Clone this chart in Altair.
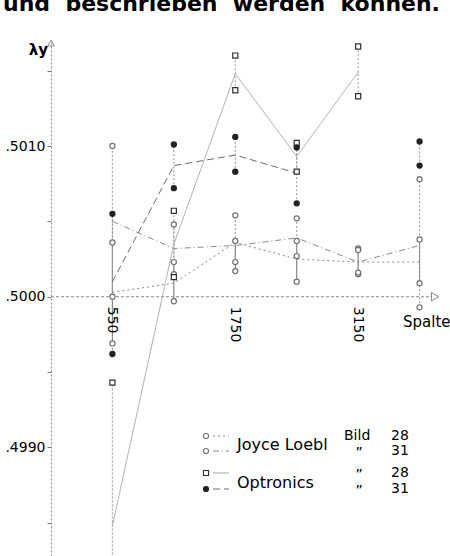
import altair as alt
import pandas as pd

# ---- data -------------------------------------------------------------
cols = [1, 2, 3, 4, 5, 6]                 # column index (Spalte)
tick_pos = [1, 3, 5]
tick_labels = ["550", "1750", "3150"]

series = ["JL28", "JL31", "OP28", "OP31"]

# Joyce Loebl, Bild 28
jl28_hi = [0.50036, 0.50023, 0.50037, 0.50037, 0.50032, 0.50038]
jl28_lo = [0.49969, 0.49997, 0.50017, 0.50010, 0.50015, 0.50009]
jl28_mean = [0.50003, 0.50009, 0.50036, 0.50025, 0.50023, 0.50023]
# Joyce Loebl, Bild 31
jl31_hi = [0.50100, 0.50048, 0.50054, 0.50052, 0.50031, 0.50078]
jl31_lo = [0.50000, 0.50015, 0.50023, 0.50027, 0.50016, 0.49993]
jl31_mean = [0.50050, 0.50032, 0.50034, 0.50039, 0.50023, 0.50034]
# Optronics, Bild 28
op28_hi = [0.49943, 0.50057, 0.50160, 0.50102, 0.50166, None]
op28_lo = [0.49752, 0.50013, 0.50137, 0.50083, 0.50133, None]
op28_mean = [0.49848, 0.50035, 0.50148, 0.50093, 0.50149, None]
# Optronics, Bild 31
op31_hi = [0.50055, 0.50101, 0.50106, 0.50099, None, 0.50103]
op31_lo = [0.49962, 0.50072, 0.50083, 0.50062, None, 0.50087]
op31_mean = [0.50010, 0.50087, 0.50094, 0.50082, None, 0.50095]

top_text = ["und\u00a0\u00a0beschrieben\u00a0\u00a0werden\u00a0\u00a0können."]
y_title = ["λy"]
x_title = ["Spalte"]
legend_names = ["Joyce Loebl", "Optronics"]
legend_bild = ["Bild", "\u201d", "\u201d", "\u201d"]
legend_nums = ["28", "31", "28", "31"]

rows = []
for name, hi, lo, mean in [("JL28", jl28_hi, jl28_lo, jl28_mean),
                           ("JL31", jl31_hi, jl31_lo, jl31_mean),
                           ("OP28", op28_hi, op28_lo, op28_mean),
                           ("OP31", op31_hi, op31_lo, op31_mean)]:
    for c, h, l, m in zip(cols, hi, lo, mean):
        rows.append(dict(series=name, col=c, hi=h, lo=l, mean=m))
df = pd.DataFrame(rows)

FONT = "DejaVu Sans"
W, H = 387, 514
xs = alt.Scale(domain=[0, 6.3], nice=False, zero=False)
ys = alt.Scale(domain=[0.49828, 0.50169], nice=False, zero=False)

line_dash = alt.Scale(domain=series, range=[[2, 3], [6, 3, 1, 3], [1, 0], [7, 4]])
line_col = alt.Scale(domain=series, range=["#8a8a8a", "#8a8a8a", "#a8a8a8", "#6a6a6a"])
rule_dash = alt.Scale(domain=series, range=[[1, 0], [2, 2], [2, 2], [2, 2]])
rule_col = alt.Scale(domain=series, range=["#7a7a7a", "#a0a0a0", "#a0a0a0", "#999999"])
shape_s = alt.Scale(domain=series, range=["circle", "circle", "square", "circle"])
fill_s = alt.Scale(domain=series, range=["white", "white", "white", "#222222"])
stroke_s = alt.Scale(domain=series, range=["#707070", "#707070", "#303030", "#222222"])
size_s = alt.Scale(domain=series, range=[26, 26, 28, 20])

base = alt.Chart(df)

yaxis = alt.Axis(
    values=[0.4985, 0.499, 0.4995, 0.5, 0.5005, 0.501, 0.5015],
    labelExpr="round(datum.value*10000) % 10 == 0 ? replace(format(datum.value, '.4f'), '0.', '.') : ''",
    title=None, grid=False, domainDash=[2, 2], domainColor="#8a8a8a",
    tickColor="#777", tickSize=4, labelFontSize=14, labelFont=FONT,
    labelColor="black", labelPadding=2,
)

rules = base.mark_rule(strokeWidth=1.1, clip=True).encode(
    x=alt.X("col:Q", scale=xs, axis=None),
    y=alt.Y("lo:Q", scale=ys, axis=yaxis),
    y2="hi:Q",
    color=alt.Color("series:N", scale=rule_col, legend=None),
    strokeDash=alt.StrokeDash("series:N", scale=rule_dash, legend=None),
)

lines = base.mark_line(strokeWidth=1.0, clip=True).encode(
    x=alt.X("col:Q", scale=xs),
    y=alt.Y("mean:Q", scale=ys),
    color=alt.Color("series:N", scale=line_col, legend=None),
    strokeDash=alt.StrokeDash("series:N", scale=line_dash, legend=None),
    detail="series:N",
)

points = base.transform_fold(["hi", "lo"], as_=["end", "val"]).mark_point(
    filled=False, strokeWidth=1.2, opacity=1, fillOpacity=1, clip=True
).encode(
    x=alt.X("col:Q", scale=xs),
    y=alt.Y("val:Q", scale=ys),
    shape=alt.Shape("series:N", scale=shape_s, legend=None),
    fill=alt.Fill("series:N", scale=fill_s, legend=None),
    stroke=alt.Stroke("series:N", scale=stroke_s, legend=None),
    size=alt.Size("series:N", scale=size_s, legend=None),
)

# x axis drawn through .5000
xaxis_line = alt.Chart(pd.DataFrame({"v": [0.5]})).mark_rule(
    color="#8a8a8a", strokeDash=[3, 2], strokeWidth=1
).encode(x=alt.value(0), x2=alt.value(381), y=alt.Y("v:Q", scale=ys))

x_arrow = alt.Chart(pd.DataFrame({"v": [0.5]})).mark_point(
    shape="triangle-right", filled=False, color="#555", size=70, strokeWidth=1
).encode(x=alt.value(384), y=alt.Y("v:Q", scale=ys))

y_arrow = alt.Chart(pd.DataFrame({"v": [1]})).mark_point(
    shape="triangle-up", filled=False, color="#555", size=45, strokeWidth=1
).encode(x=alt.value(0), y=alt.value(1))

xticks = alt.Chart(pd.DataFrame({"col": tick_pos, "lab": tick_labels, "v": [0.5] * 3})).mark_text(
    angle=90, align="left", baseline="middle", dx=10, fontSize=14, font=FONT, color="black"
).encode(x=alt.X("col:Q", scale=xs), y=alt.Y("v:Q", scale=ys), text="lab:N")


def label(text, x, y, size=15, align="left", bold=False, baseline="middle"):
    return alt.Chart(pd.DataFrame({"t": [text]})).mark_text(
        align=align, baseline=baseline, fontSize=size, font=FONT,
        fontWeight="bold" if bold else "normal", color="black"
    ).encode(x=alt.value(x), y=alt.value(y), text="t:N")


texts = [
    label(top_text[0], -48, -31, size=22, bold=True, baseline="alphabetic"),
    label(y_title[0], -3, 8, size=15, align="right", bold=True),
    label(x_title[0], 352, 280, size=15),
    label(legend_names[0], 186, 403, size=16),
    label(legend_names[1], 186, 441, size=16),
]
row_y = [394, 409, 431, 447]
for i in range(4):
    texts.append(label(legend_bild[i], 293 if i == 0 else 308, row_y[i] + (0 if i == 0 else 2),
                       size=14, align="left" if i == 0 else "center"))
    texts.append(label(legend_nums[i], 340, row_y[i], size=14))

legend_layers = []
for i, s in enumerate(series):
    sym = alt.Chart(pd.DataFrame({"series": [s]})).mark_point(
        filled=False, strokeWidth=1.1, opacity=1, fillOpacity=1
    ).encode(
        x=alt.value(155), y=alt.value(row_y[i]),
        shape=alt.Shape("series:N", scale=shape_s, legend=None),
        fill=alt.Fill("series:N", scale=fill_s, legend=None),
        stroke=alt.Stroke("series:N", scale=stroke_s, legend=None),
        size=alt.Size("series:N", scale=size_s, legend=None),
    )
    seg = alt.Chart(pd.DataFrame({"series": [s]})).mark_rule(strokeWidth=1).encode(
        x=alt.value(162), x2=alt.value(178), y=alt.value(row_y[i]),
        color=alt.Color("series:N", scale=line_col, legend=None),
        strokeDash=alt.StrokeDash("series:N", scale=line_dash, legend=None),
    )
    legend_layers += [sym, seg]

chart = alt.layer(
    rules, xaxis_line, x_arrow, y_arrow, lines, points, xticks, *texts, *legend_layers
).resolve_scale(
    color="independent", strokeDash="independent"
).properties(
    width=W, height=H,
    padding={"left": 51, "top": 42, "right": 12, "bottom": 0},
    autosize=alt.AutoSizeParams(type="none"),
    background="white",
).configure_view(stroke=None).configure_text(font=FONT)

chart.save("out.html", embed_options={"renderer": "svg", "actions": False})
